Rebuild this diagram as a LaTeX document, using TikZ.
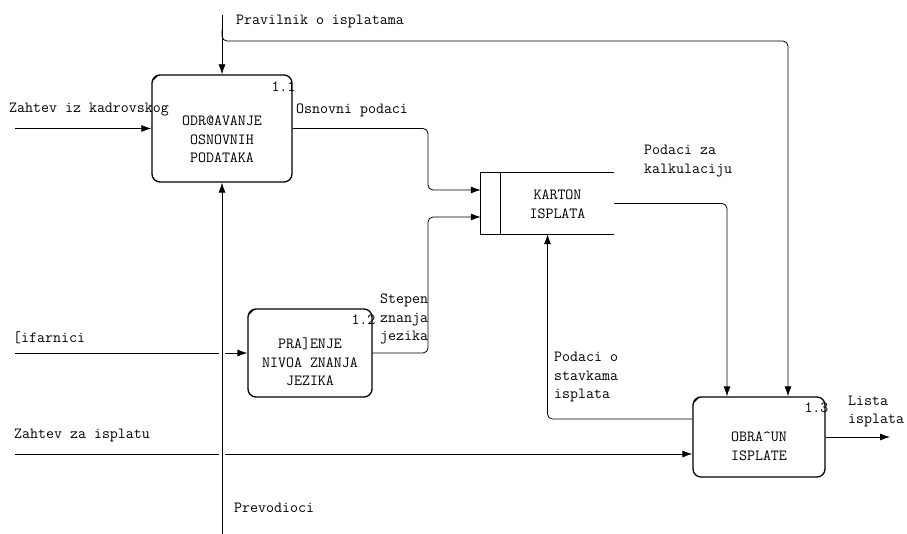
\documentclass[tikz,border=0pt]{standalone}
\usepackage{fontspec}
\usetikzlibrary{arrows.meta}
\tikzset{
  >={Latex[length=10pt,width=7pt]},
  proc/.style={draw,line width=1.3pt,rounded corners=8pt,inner sep=0pt},
  txt/.style={font=\ttfamily\fontsize{15.5}{18.5}\selectfont,inner sep=0pt},
  ptxt/.style={txt,align=center},
  lbl/.style={txt,align=left,anchor=west},
  flow/.style={->,line width=0.8pt,rounded corners=5pt}
}
\begin{document}
\begin{tikzpicture}[x=1pt,y=-1pt]
    \useasboundingbox (0,0) rectangle (907,534);
    \node[proc,minimum width=140,minimum height=107] (p1) at (222,128.5) {};
    \node[proc,minimum width=124,minimum height=88] (p2) at (310,353) {};
    \node[proc,minimum width=132,minimum height=80] (p3) at (759,437) {};
    \node[minimum width=133,minimum height=61,inner sep=0pt] (store) at (547.5,203.5) {};
    \draw[line width=1.1pt] (store.north east) -- (store.north west) -- (store.south west) -- (store.south east);
    \draw[line width=1.1pt] ([xshift=20pt]store.north west) -- ([xshift=20pt]store.south west);
    \foreach \b in {p1,p2,p3}
        \draw[line width=1pt] ([xshift=1.5pt,yshift=-6pt]\b.north west) -- ([xshift=6pt,yshift=-1.5pt]\b.north west);
    \node[ptxt] (t1) at ([yshift=-11pt]p1.center) {ODR@AVANJE\\OSNOVNIH\\PODATAKA};
    \node[ptxt] (t2) at ([yshift=-9pt]p2.center) {PRA]ENJE\\NIVOA ZNANJA\\JEZIKA};
    \node[ptxt] (t3) at ([yshift=-9pt]p3.center) {OBRA\textasciicircum UN\\ISPLATE};
    \node[ptxt] (ts) at ([xshift=10pt,yshift=-1pt]store.center) {KARTON\\ISPLATA};
    \node[txt,anchor=east] (n1) at ([xshift=3pt,yshift=-12pt]p1.north east) {1.1};
    \node[txt,anchor=east] (n2) at ([xshift=3pt,yshift=-11pt]p2.north east) {1.2};
    \node[txt,anchor=east] (n3) at ([xshift=3pt,yshift=-11pt]p3.north east) {1.3};
    \coordinate (ptop) at (222,15);
    \coordinate (pbr) at (222,30);
    \coordinate (pr) at (788,41);
    \coordinate (bus) at (428,0);
    \coordinate (in1) at ([yshift=13.5pt]store.west);
    \coordinate (in2) at ([yshift=-13.5pt]store.west);
    \coordinate (zik) at (15,128.5);
    \coordinate (sif) at (15,353);
    \coordinate (zzi) at (15,454);
    \coordinate (prev) at (222,534);
    \coordinate (lista) at (890,437);
    \draw[flow] (ptop) -- (p1.north);
    \draw[flow] (pbr) |- (pr) -- (pr |- p3.north);
    \draw[flow] (zik) -- (p1.west);
    \draw[flow] (prev) -- (p1.south);
    \draw[flow] (p1.east) -| (bus |- in1) -- (in1);
    \draw[flow] (p2.east) -| (bus |- in2) -- (in2);
    \draw[flow] (store.east) -| ([xshift=-32pt]p3.north);
    \draw[flow] ([yshift=18pt]p3.west) -| (store.south);
    \draw[line width=0.8pt] (sif) -- ([xshift=-3pt]sif -| p1.south);
    \draw[flow] ([xshift=3pt]sif -| p1.south) -- (p2.west);
    \draw[line width=0.8pt] (zzi) -- ([xshift=-3pt]zzi -| p1.south);
    \draw[flow] ([xshift=3pt]zzi -| p1.south) -- (zzi -| p3.west);
    \draw[flow] (p3.east) -- (lista);
    \node[lbl] (l1) at (236,21) {Pravilnik o isplatama};
    \node[lbl] (l2) at (9,110) {Zahtev iz kadrovskog};
    \node[lbl] (l3) at (296,110) {Osnovni podaci};
    \node[lbl] (l4) at (644,161) {Podaci za\\kalkulaciju};
    \node[lbl] (l5) at (380,319) {Stepen\\znanja\\jezika};
    \node[lbl] (l6) at (13,338) {[ifarnici};
    \node[lbl] (l7) at (554,377) {Podaci o\\stavkama\\isplata};
    \node[lbl] (l8) at (14,435) {Zahtev za isplatu};
    \node[lbl] (l9) at (234,508) {Prevodioci};
    \node[lbl] (l10) at (848,411.5) {Lista\\isplata};
\end{tikzpicture}
\end{document}
